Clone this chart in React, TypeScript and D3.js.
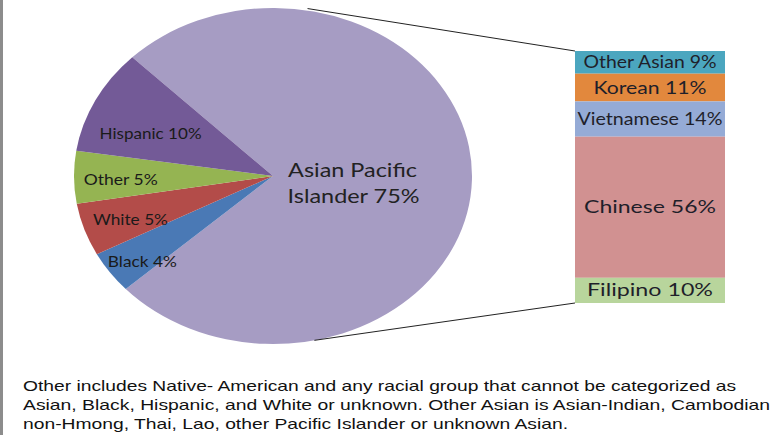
import React from "react";
import * as d3 from "d3";

// ---- data ----
const pieLabels = ["Asian Pacific Islander", "Black", "White", "Other", "Hispanic"];
const pieValues = [75, 4, 5, 5, 10];
const pieColors = ["#A69CC3", "#4A79B5", "#B34C49", "#95B452", "#735A97"];

const barLabels = ["Other Asian", "Korean", "Vietnamese", "Chinese", "Filipino"];
const barValues = [9, 11, 14, 56, 10];
const barColors = ["#4BA6BF", "#E2883D", "#95ABD6", "#D19191", "#B8D59C"];

const footnoteLines = [
  "Other includes Native- American and any racial group that cannot be categorized as",
  "Asian, Black, Hispanic, and White or unknown. Other Asian is Asian-Indian, Cambodian",
  "non-Hmong, Thai, Lao, other Pacific Islander or unknown Asian.",
];

// ---- layout ----
const W = 773;
const H = 435;
const cx = 273;
const cy = 176;
const rx = 199;
const ry = 168;
const sx = rx / ry;
const barX0 = 575;
const barX1 = 725;
const barY0 = 51;
const barY1 = 303;

const smallLabelWidths = [0, 69, 75, 74, 102];
const smallLabelNudge = [
  [0, 0],
  [-10, 14],
  [-3, 3],
  [-5, 2],
  [9, 13],
];
const barLabelWidths = [133, 113, 145, 132, 126];
const footWidths = [713, 747, 545];

export default function App() {
  const pie = d3
    .pie<number>()
    .sort(null)
    .startAngle(-Math.PI / 4)
    .endAngle((7 * Math.PI) / 4)(pieValues);
  const arc = d3.arc<d3.PieArcDatum<number>>().innerRadius(0).outerRadius(ry);

  const labelPos = (a: d3.PieArcDatum<number>, r: number) => {
    const m = (a.startAngle + a.endAngle) / 2;
    return [cx + rx * r * Math.sin(m), cy - ry * r * Math.cos(m)];
  };

  const y = d3.scaleLinear().domain([0, d3.sum(barValues)]).range([barY0, barY1]);
  const cum = barValues.map((_, i) => d3.sum(barValues.slice(0, i)));

  const ptOn = (deg: number) => {
    const t = (deg * Math.PI) / 180;
    return [cx + rx * Math.sin(t), cy - ry * Math.cos(t)];
  };
  const topPt = ptOn(10);
  const botPt = ptOn(168);

  const labelFont = "Lato, 'Open Sans', sans-serif";

  return (
    <svg
      width={W}
      height={H}
      style={{ position: "absolute", left: 0, top: 0, background: "#fff" }}
    >
      <rect x={0} y={0} width={W} height={H} fill="#fff" />
      <rect x={0} y={0} width={3} height={H} fill="#8c8c8c" />

      <g transform={`translate(${cx},${cy}) scale(${sx},1)`}>
        {pie.map((a, i) => (
          <path key={i} d={arc(a) || ""} fill={pieColors[i]} />
        ))}
      </g>

      {/* connectors */}
      <line x1={topPt[0]} y1={topPt[1] - 2} x2={barX0} y2={y(0)} stroke="#222" strokeWidth={1} />
      <line x1={botPt[0]} y1={botPt[1]} x2={barX0} y2={y(d3.sum(barValues))} stroke="#222" strokeWidth={1} />

      {/* pie labels */}
      {pie.map((a, i) => {
        if (i === 0) {
          const [lx, ly] = labelPos(a, 0.4);
          return (
            <g key={i} fontFamily={labelFont} fontSize={19} fill="#222" textAnchor="middle">
              <text x={lx} y={ly - 1} textLength={129} lengthAdjust="spacingAndGlyphs">
                Asian Pacific
              </text>
              <text x={lx + 1} y={ly + 25} textLength={132} lengthAdjust="spacingAndGlyphs">
                {`Islander ${pieValues[0]}%`}
              </text>
            </g>
          );
        }
        const [lx, ly] = labelPos(a, 0.74);
        return (
          <text
            key={i}
            x={lx + smallLabelNudge[i][0]}
            y={ly + 6 + smallLabelNudge[i][1]}
            fontFamily={labelFont}
            fontSize={16}
            fill="#1a1a1a"
            textAnchor="middle"
            textLength={smallLabelWidths[i]}
            lengthAdjust="spacingAndGlyphs"
          >
            {`${pieLabels[i]} ${pieValues[i]}%`}
          </text>
        );
      })}

      {/* bar of pie */}
      {barValues.map((v, i) => (
        <rect
          key={i}
          x={barX0}
          y={y(cum[i])}
          width={barX1 - barX0}
          height={y(cum[i] + v) - y(cum[i])}
          fill={barColors[i]}
        />
      ))}
      {barValues.map((v, i) => (
        <text
          key={i}
          x={(barX0 + barX1) / 2}
          y={(y(cum[i]) + y(cum[i] + v)) / 2 + 6}
          fontFamily={labelFont}
          fontSize={17}
          fill="#1f1f2a"
          textAnchor="middle"
          textLength={barLabelWidths[i]}
          lengthAdjust="spacingAndGlyphs"
        >
          {`${barLabels[i]} ${v}%`}
        </text>
      ))}

      {/* footnote */}
      {footnoteLines.map((t, i) => (
        <text
          key={i}
          x={23}
          y={391 + i * 19}
          fontFamily="'Liberation Sans', Arial, sans-serif"
          fontSize={15}
          fill="#111"
          textLength={footWidths[i]}
          lengthAdjust="spacingAndGlyphs"
        >
          {t}
        </text>
      ))}
    </svg>
  );
}
